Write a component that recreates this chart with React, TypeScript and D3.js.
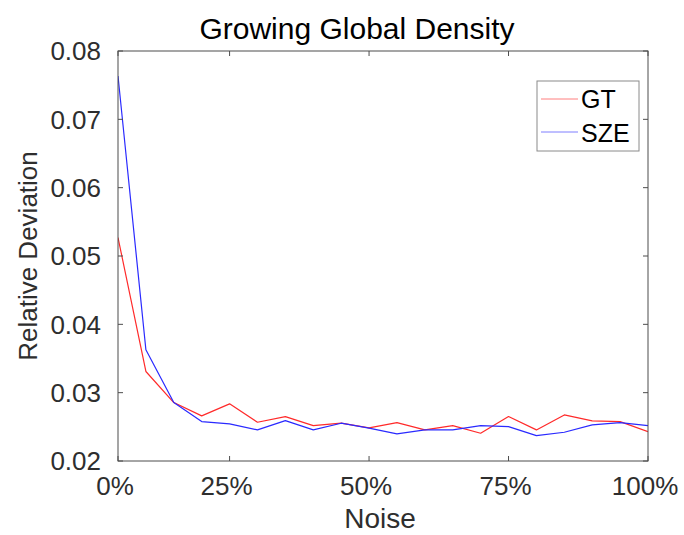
import React from "react";
import * as d3 from "d3";

const noiseIndex = [0, 1, 2, 3, 4, 5, 6, 7, 8, 9, 10, 11, 12, 13, 14, 15, 16, 17, 18, 19];
const gtValues = [0.0527, 0.0331, 0.02855, 0.0266, 0.02836, 0.02567, 0.0265, 0.02518, 0.02553, 0.02485, 0.02562, 0.02455, 0.02518, 0.02406, 0.0265, 0.02455, 0.02674, 0.02587, 0.02577, 0.0243];
const szeValues = [0.07635, 0.03628, 0.02855, 0.02577, 0.02543, 0.02455, 0.02591, 0.02455, 0.02553, 0.0248, 0.02396, 0.02455, 0.02455, 0.02518, 0.02503, 0.02371, 0.02421, 0.02528, 0.02562, 0.02518];
const xTickIndex = [0, 4, 9, 14, 19];
const xTickLabels = ["0%", "25%", "50%", "75%", "100%"];
const yTicks = [0.02, 0.03, 0.04, 0.05, 0.06, 0.07, 0.08];
const seriesNames = ["GT", "SZE"];
const seriesColors = ["#ff2a2a", "#2a2aff"];

const W = 684;
const H = 535;
const left = 118, right = 648, top = 51, bottom = 461;
const FONT = "'Liberation Sans', Arial, Helvetica, sans-serif";
const TEXT = "#2e2e2e";
const AXIS = "#4d4d4d";

export default function App() {
  const x = d3.scaleLinear().domain([0, 19]).range([left, right]);
  const y = d3.scaleLinear().domain([0.02, 0.08]).range([bottom, top]);
  const line = d3
    .line<[number, number]>()
    .x((d) => x(d[0]))
    .y((d) => y(d[1]));
  const series = [gtValues, szeValues];
  const tl = 5;

  return (
    <svg
      width={W}
      height={H}
      style={{ position: "absolute", left: 0, top: 0, background: "#fff" }}
      fontFamily={FONT}
    >
      <rect x={0} y={0} width={W} height={H} fill="#fff" />
      <defs>
        <clipPath id="clip">
          <rect x={left} y={top} width={right - left} height={bottom - top} />
        </clipPath>
      </defs>
      <g clipPath="url(#clip)">
        {series.map((vals, si) => (
          <path
            key={si}
            d={line(noiseIndex.map((n, i) => [n, vals[i]] as [number, number])) || ""}
            fill="none"
            stroke={seriesColors[si]}
            strokeWidth={1.2}
            strokeLinejoin="round"
          />
        ))}
      </g>
      <rect x={left} y={top} width={right - left} height={bottom - top} fill="none" stroke={AXIS} strokeWidth={1} />
      {xTickIndex.map((t, i) => (
        <g key={"xt" + i}>
          <line x1={x(t)} x2={x(t)} y1={bottom} y2={bottom - tl} stroke={AXIS} />
          <line x1={x(t)} x2={x(t)} y1={top} y2={top + tl} stroke={AXIS} />
          <text x={x(t) - 3} y={495} textAnchor="middle" fontSize={26} fill={TEXT}>
            {xTickLabels[i]}
          </text>
        </g>
      ))}
      {yTicks.map((t, i) => (
        <g key={"yt" + i}>
          <line x1={left} x2={left + tl} y1={y(t)} y2={y(t)} stroke={AXIS} />
          <line x1={right} x2={right - tl} y1={y(t)} y2={y(t)} stroke={AXIS} />
          <text x={101} y={y(t)} dy="0.36em" textAnchor="end" fontSize={26} fill={TEXT}>
            {t.toFixed(2)}
          </text>
        </g>
      ))}
      <text x={357} y={39} textAnchor="middle" fontSize={30} fill="#000">
        Growing Global Density
      </text>
      <text x={380} y={528} textAnchor="middle" fontSize={28} fill={TEXT}>
        Noise
      </text>
      <text
        transform={`translate(37, ${(top + bottom) / 2}) rotate(-90)`}
        textAnchor="middle"
        fontSize={26}
        fill={TEXT}
      >
        Relative Deviation
      </text>
      <rect x={537} y={81} width={102} height={70} fill="#fff" stroke="#8a8a8a" strokeWidth={1} />
      {seriesNames.map((name, i) => (
        <g key={"lg" + i}>
          <line x1={541} x2={578} y1={99 + i * 33} y2={99 + i * 33} stroke={seriesColors[i]} strokeWidth={1} strokeOpacity={0.6} />
          <text x={581} y={108 + i * 34} fontSize={25} fill="#000">
            {name}
          </text>
        </g>
      ))}
    </svg>
  );
}
